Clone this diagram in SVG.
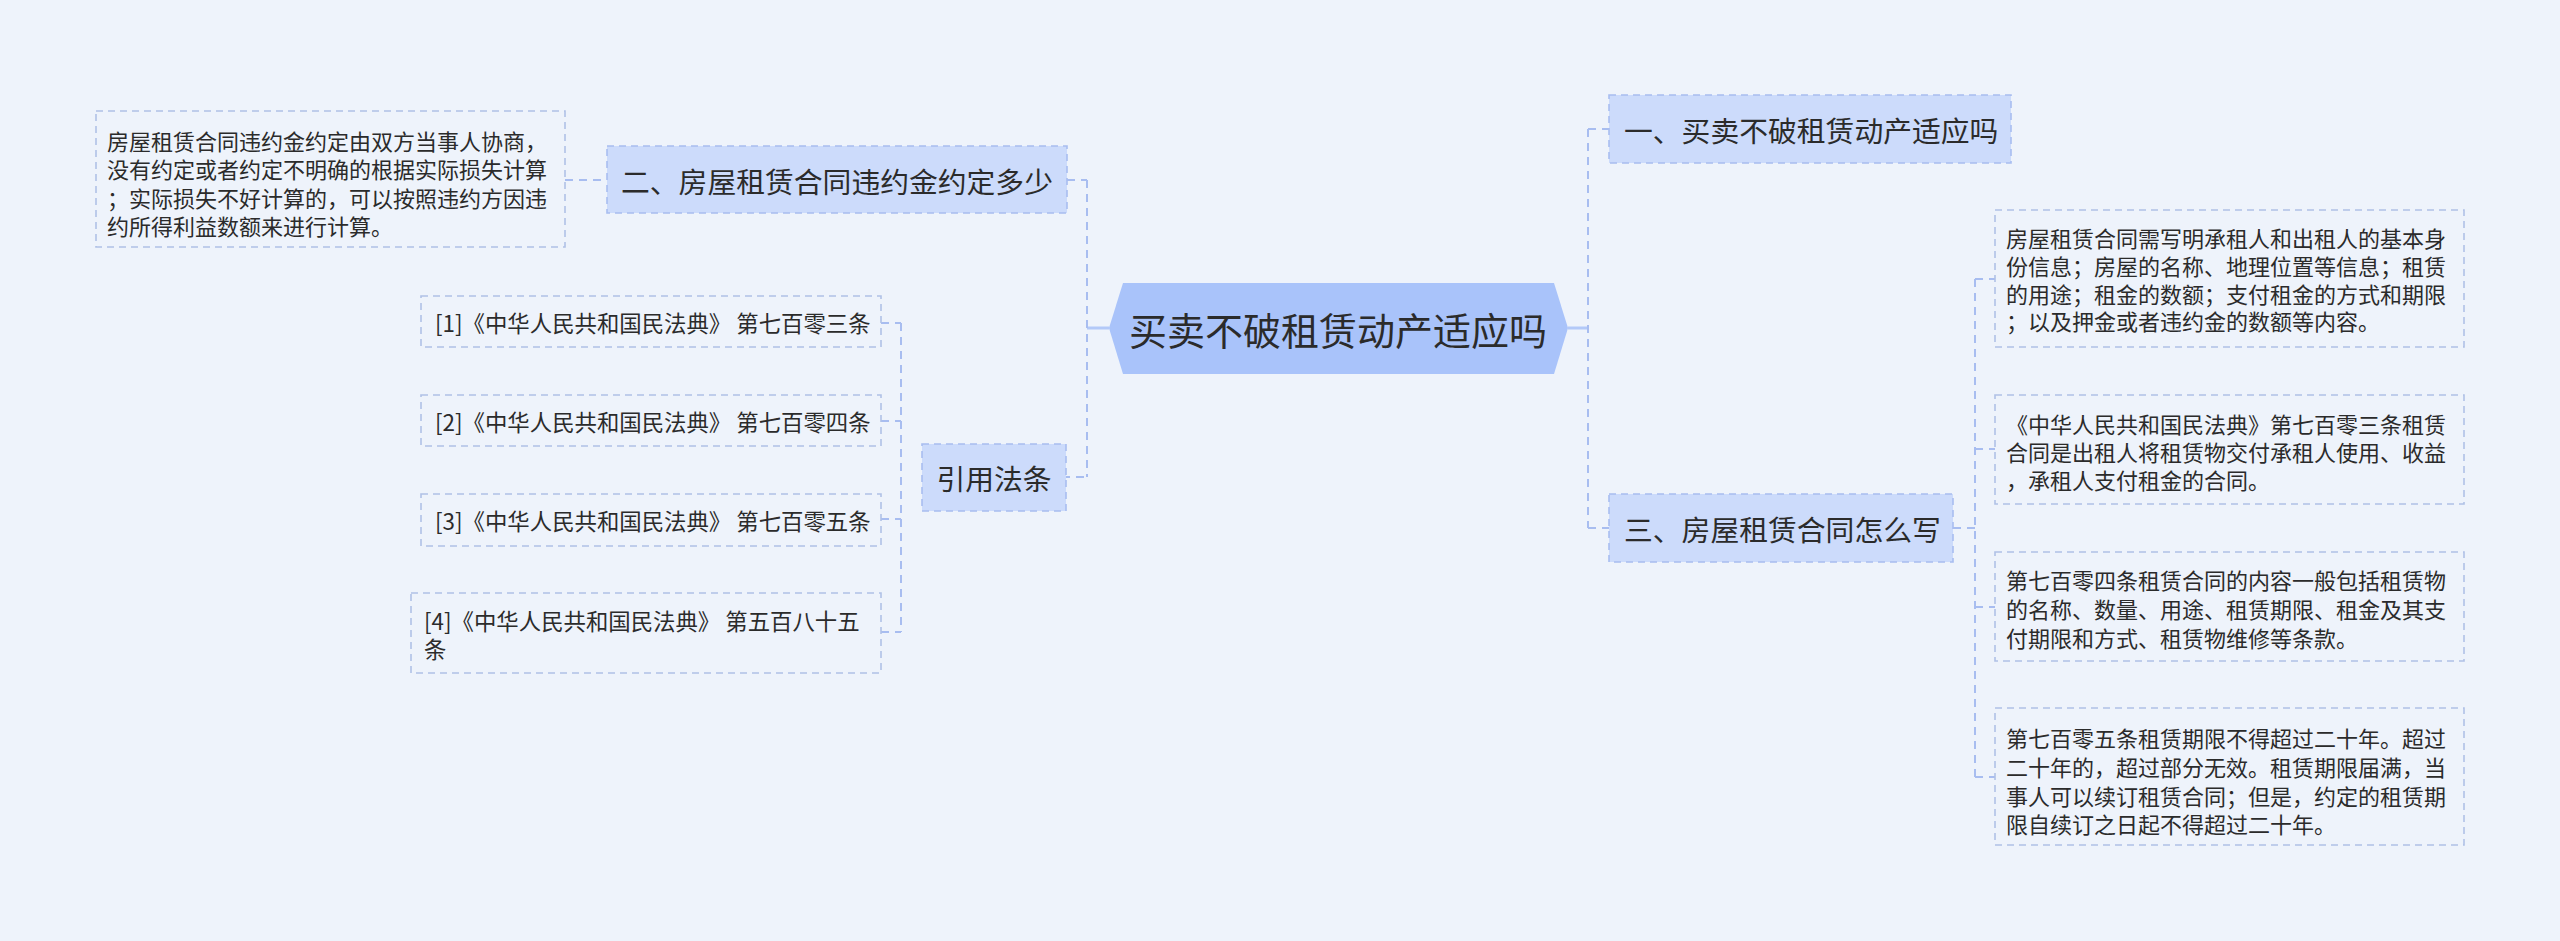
<svg xmlns="http://www.w3.org/2000/svg" width="2560" height="941" viewBox="0 0 2560 941">
<style>
text{font-family:"Noto Sans CJK SC","Noto Sans",sans-serif;fill:#2b2b2b;dominant-baseline:central}
.conn{fill:none;stroke:#a8bdf0;stroke-width:2;stroke-dasharray:8 6}
.solid{fill:none;stroke:#b3c9f8;stroke-width:3}
.topic{fill:#ccdbfb;stroke:#a8bdf0;stroke-width:1.6;stroke-dasharray:7 5}
.leaf{fill:none;stroke:#b0c1e6;stroke-width:1.6;stroke-dasharray:7 5}
.t28{font-size:28.8px}
.t22{font-size:22px}
.cite{font-size:22.4px}
</style>
<rect width="2560" height="941" fill="#eef3fb"/>
<g id="connectors">
<path class="solid" d="M1109 328 H1087"/>
<path class="solid" d="M1568 328 H1588"/>
<path class="conn" d="M1087 180 V477"/>
<path class="conn" d="M1067 180 H1087 M922 477 H1087"/>
<path class="conn" d="M565 180 H607"/>
<path class="conn" d="M901 323 V632 M881 323 H901 M881 421 H901 M881 519 H901 M881 632 H901"/>
<path class="conn" d="M1588 129 V528 M1588 129 H1609 M1588 528 H1609"/>
<path class="conn" d="M1975 279 V777 M1953 528 H1975 M1975 279 H1995 M1975 449 H1995 M1975 607 H1995 M1975 777 H1995"/>
</g>
<g id="root">
<polygon points="1109,328 1123,283 1554,283 1568,328 1554,374 1123,374" fill="#a9c3fa"/>
<text x="1338" y="328" font-size="38" text-anchor="middle">买卖不破租赁动产适应吗</text>
</g>
<g id="n1">
<rect class="topic" x="1609" y="95" width="402" height="68"/>
<text class="t28" x="1624" y="129">一、买卖不破租赁动产适应吗</text>
</g>
<g id="n2">
<rect class="topic" x="607" y="146" width="460" height="67"/>
<text class="t28" x="621" y="180">二、房屋租赁合同违约金约定多少</text>
</g>
<g id="n2a">
<rect class="leaf" x="96" y="111" width="469" height="136"/>
<text class="t22" x="107" y="140">房屋租赁合同违约金约定由双方当事人协商，</text>
<text class="t22" x="107" y="168">没有约定或者约定不明确的根据实际损失计算</text>
<text class="t22" x="107" y="197">；实际损失不好计算的，可以按照违约方因违</text>
<text class="t22" x="107" y="225">约所得利益数额来进行计算。</text>
</g>
<g id="n3">
<rect class="topic" x="1609" y="494" width="344" height="68"/>
<text class="t28" x="1624" y="528">三、房屋租赁合同怎么写</text>
</g>
<g id="n3a">
<rect class="leaf" x="1995" y="210" width="469" height="137"/>
<text class="t22" x="2006" y="237">房屋租赁合同需写明承租人和出租人的基本身</text>
<text class="t22" x="2006" y="265">份信息；房屋的名称、地理位置等信息；租赁</text>
<text class="t22" x="2006" y="293">的用途；租金的数额；支付租金的方式和期限</text>
<text class="t22" x="2006" y="320">；以及押金或者违约金的数额等内容。</text>
</g>
<g id="n3b">
<rect class="leaf" x="1995" y="395" width="469" height="109"/>
<text class="t22" x="2006" y="423">《中华人民共和国民法典》第七百零三条租赁</text>
<text class="t22" x="2006" y="451">合同是出租人将租赁物交付承租人使用、收益</text>
<text class="t22" x="2006" y="479">，承租人支付租金的合同。</text>
</g>
<g id="n3c">
<rect class="leaf" x="1995" y="552" width="469" height="109"/>
<text class="t22" x="2006" y="579">第七百零四条租赁合同的内容一般包括租赁物</text>
<text class="t22" x="2006" y="608">的名称、数量、用途、租赁期限、租金及其支</text>
<text class="t22" x="2006" y="637">付期限和方式、租赁物维修等条款。</text>
</g>
<g id="n3d">
<rect class="leaf" x="1995" y="708" width="469" height="137"/>
<text class="t22" x="2006" y="737">第七百零五条租赁期限不得超过二十年。超过</text>
<text class="t22" x="2006" y="766">二十年的，超过部分无效。租赁期限届满，当</text>
<text class="t22" x="2006" y="795">事人可以续订租赁合同；但是，约定的租赁期</text>
<text class="t22" x="2006" y="823">限自续订之日起不得超过二十年。</text>
</g>
<g id="n4">
<rect class="topic" x="922" y="444" width="144" height="67"/>
<text class="t28" x="994" y="477" text-anchor="middle">引用法条</text>
</g>
<g id="c1">
<rect class="leaf" x="421" y="296" width="460" height="51"/>
<text class="cite" x="435" y="322">[1]《中华人民共和国民法典》 第七百零三条</text>
</g>
<g id="c2">
<rect class="leaf" x="421" y="395" width="460" height="51"/>
<text class="cite" x="435" y="421">[2]《中华人民共和国民法典》 第七百零四条</text>
</g>
<g id="c3">
<rect class="leaf" x="421" y="494" width="460" height="52"/>
<text class="cite" x="435" y="520">[3]《中华人民共和国民法典》 第七百零五条</text>
</g>
<g id="c4">
<rect class="leaf" x="411" y="593" width="470" height="80"/>
<text class="cite" x="424" y="620">[4]《中华人民共和国民法典》 第五百八十五</text>
<text class="cite" x="424" y="648">条</text>
</g>
</svg>
